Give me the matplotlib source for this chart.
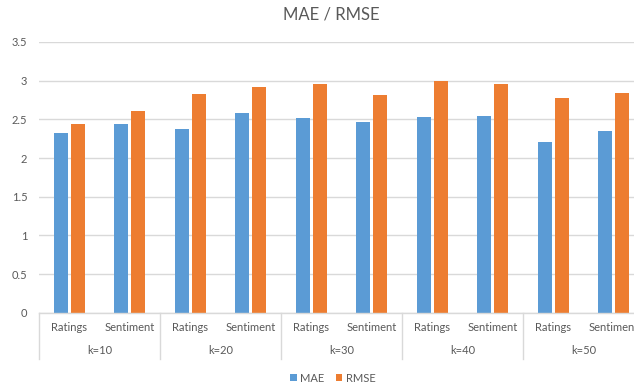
import matplotlib
matplotlib.use("Agg")
import matplotlib.pyplot as plt
import numpy as np
from matplotlib.patches import Patch

# Data
groups = ["k=10", "k=20", "k=30", "k=40", "k=50"]
methods = ["Ratings", "Sentiment"]
mae = [2.32, 2.44, 2.37, 2.58, 2.52, 2.47, 2.53, 2.54, 2.21, 2.35]
rmse = [2.44, 2.61, 2.83, 2.92, 2.96, 2.82, 3.00, 2.96, 2.78, 2.84]
series_names = ["MAE", "RMSE"]
yticks = [0, 0.5, 1, 1.5, 2, 2.5, 3, 3.5]
ytick_labels = ["0", "0.5", "1", "1.5", "2", "2.5", "3", "3.5"]

BLUE = "#5B9BD5"
ORANGE = "#ED7D31"
TEXT = "#595959"
GRID = "#D9D9D9"

plt.rcParams["font.family"] = ["Lato", "DejaVu Sans"]

W, H = 634, 383
fig = plt.figure(figsize=(W / 100, H / 100), dpi=100)

# plot area in pixels (extends past the right edge of the canvas)
left_px, right_px, top_px, bottom_px = 39, 644, 42, 312.7
ax = fig.add_axes([left_px / W, 1 - bottom_px / H,
                   (right_px - left_px) / W, (bottom_px - top_px) / H])

n = len(mae)
x = np.arange(n)
bw = 0.225
off = 0.14
ax.bar(x - off, mae, width=bw, color=BLUE, linewidth=0, zorder=3)
ax.bar(x + off, rmse, width=bw, color=ORANGE, linewidth=0, zorder=3)

ax.set_xlim(-0.5, n - 0.5)
ax.set_ylim(0, 3.5)
ax.set_yticks(yticks)
ax.set_yticklabels(ytick_labels)
ax.tick_params(axis="y", length=0, pad=8.5, labelsize=8, labelcolor=TEXT)
ax.set_xticks([])
ax.yaxis.grid(True, color=GRID, linewidth=1.0, zorder=0)
for s in ["top", "right", "left"]:
    ax.spines[s].set_visible(False)
ax.spines["bottom"].set_color(GRID)
ax.spines["bottom"].set_linewidth(1.0)
ax.spines["bottom"].set_zorder(4)

# multi-level category axis
ax_h_px = bottom_px - top_px
row1_y = -14.6 / ax_h_px
row2_y = -37.5 / ax_h_px
sep_y = -46.0 / ax_h_px
trans = ax.get_xaxis_transform()
for i in range(n):
    ax.text(i, row1_y, methods[i % 2], transform=trans, ha="center", va="center",
            fontsize=8, color=TEXT, clip_on=False)
for g, name in enumerate(groups):
    ax.text(2 * g + 0.5, row2_y, name, transform=trans, ha="center", va="center",
            fontsize=8, color=TEXT, clip_on=False)
for g in range(len(groups) + 1):
    ax.plot([2 * g - 0.5, 2 * g - 0.5], [0, sep_y], transform=trans, color=GRID,
            linewidth=1.0, clip_on=False)

fig.text(331 / W, 1 - 15 / H, "MAE / RMSE", ha="center", va="center",
         fontsize=12, color=TEXT)

handles = [Patch(facecolor=BLUE, edgecolor="none"),
           Patch(facecolor=ORANGE, edgecolor="none")]
fig.legend(handles, series_names, loc="center", bbox_to_anchor=(333 / W, 1 - 378 / H),
           ncol=2, frameon=False, fontsize=8, labelcolor=TEXT,
           handlelength=0.6, handleheight=0.6, handletextpad=0.3, columnspacing=1.0)

fig.savefig("out.png", dpi=100)
